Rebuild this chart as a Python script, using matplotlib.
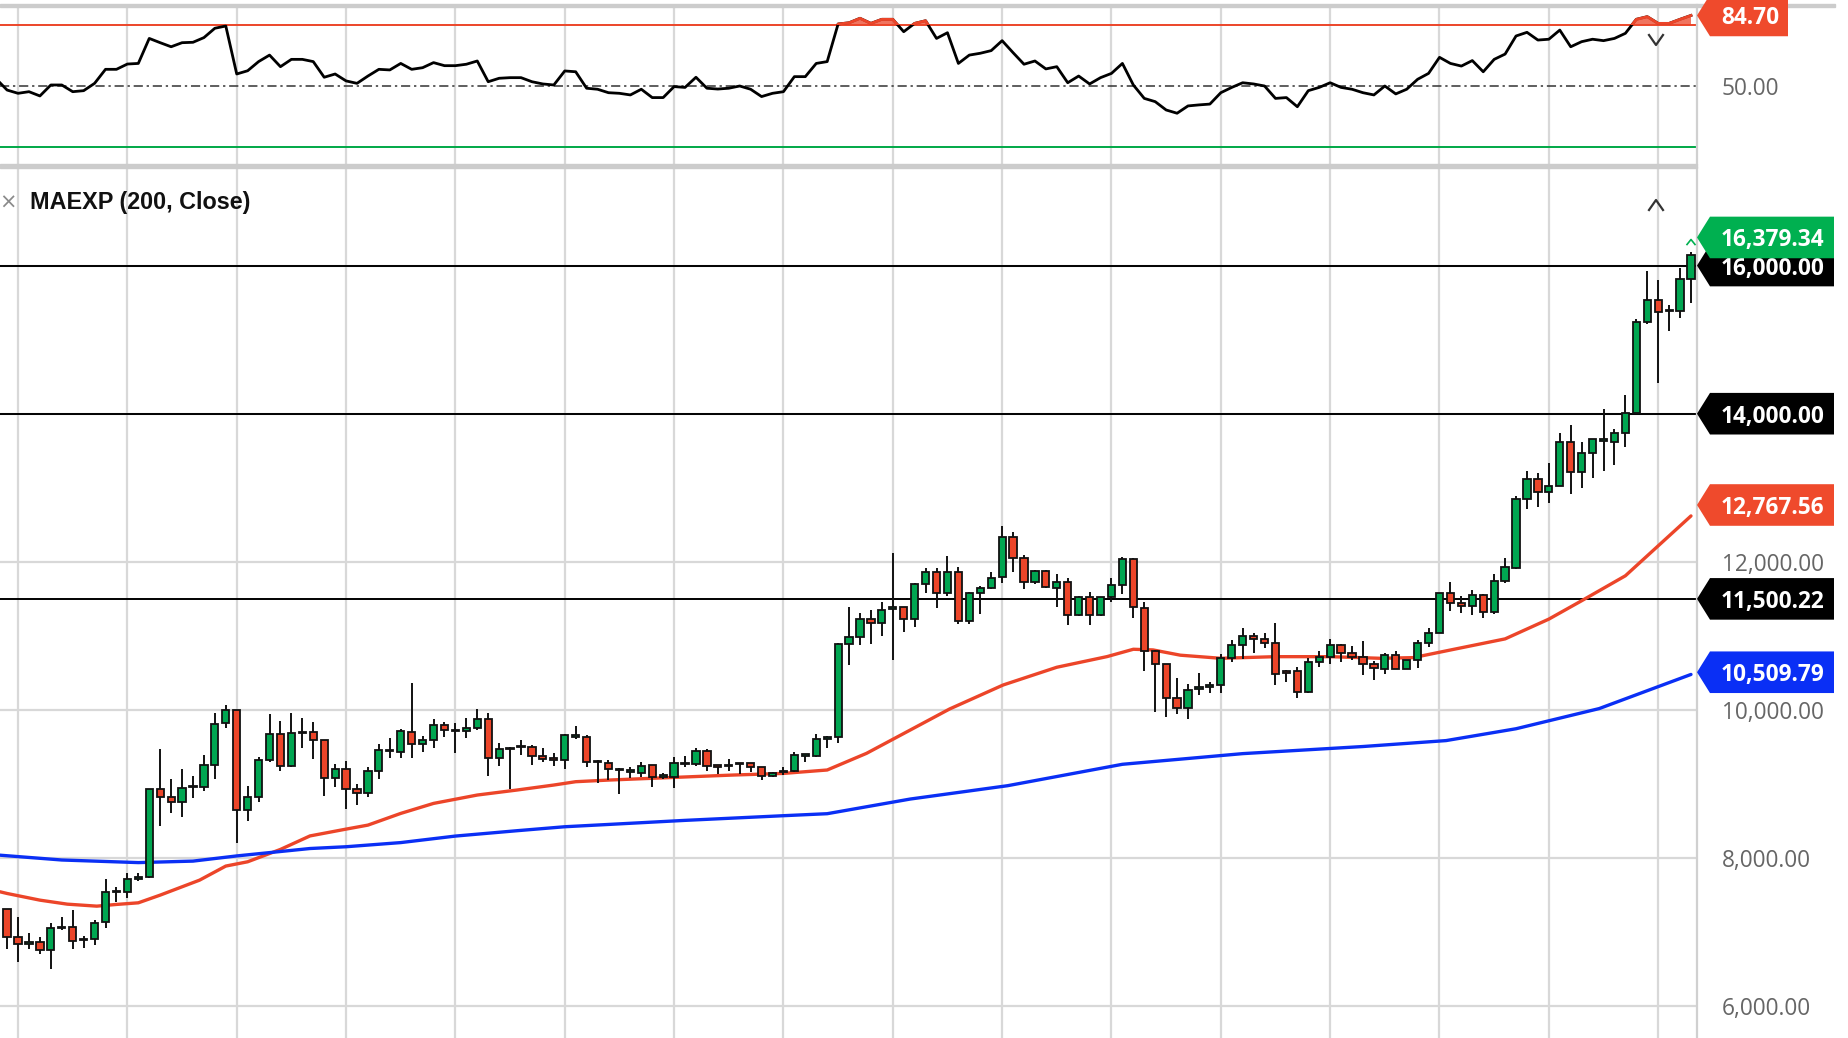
import numpy as np
import matplotlib
matplotlib.use("Agg")
import matplotlib.pyplot as plt
from matplotlib.patches import Polygon, Rectangle
from matplotlib.lines import Line2D
from matplotlib.transforms import IdentityTransform
from matplotlib.ticker import FuncFormatter

plt.rcParams['font.family'] = ['Open Sans', 'DejaVu Sans']

# ---------------- data ----------------
opens = [7307, 6937, 6839, 6870, 6758, 7051, 7073, 6905, 6902, 7136,
         7537, 7541, 7712, 7740, 8933, 8829, 8753, 8960, 8964, 9257,
         9820, 10000, 8649, 8829, 9325, 9671, 9244, 9685, 9707, 9595,
         9077, 9198, 8928, 8874, 9176, 9442, 9437, 9707, 9536, 9595,
         9797, 9730, 9716, 9761, 9874, 9356, 9491, 9496, 9505, 9379,
         9338, 9325, 9640, 9640, 9302, 9279, 9199, 9167, 9154, 9253,
         9099, 9099, 9271, 9266, 9446, 9248, 9244, 9271, 9280, 9226,
         9113, 9162, 9176, 9383, 9383, 9604, 9635, 10887, 10991, 11230,
         11171, 11365, 11387, 11230, 11702, 11869, 11576, 11869, 11203, 11576,
         11644, 11801, 12333, 12049, 11725, 11878, 11644, 11734, 11284, 11531,
         11284, 11522, 11689, 12040, 11383, 10802, 10617, 10158, 10023, 10279,
         10315, 10338, 10698, 10878, 11000, 10955, 10901, 10527, 10527, 10239,
         10644, 10720, 10878, 10766, 10712, 10617, 10554, 10743, 10554, 10676,
         10910, 11045, 11576, 11450, 11405, 11554, 11329, 11748, 11915, 12845,
         13115, 12949, 13024, 13619, 13214, 13474, 13632, 13623, 13735, 14005,
         15236, 15541, 15380, 15384, 15820]
highs = [7320, 7199, 6983, 6929, 7127, 7208, 7298, 6947, 7163, 7717,
         7613, 7793, 7803, 8940, 9469, 9068, 9199, 9113, 9392, 9955,
         10068, 10005, 8973, 9361, 9942, 9851, 9955, 9897, 9842, 9600,
         9266, 9311, 9000, 9225, 9536, 9617, 9739, 10369, 9649, 9874,
         9842, 9820, 9887, 10009, 9964, 9550, 9505, 9595, 9527, 9482,
         9415, 9676, 9788, 9662, 9325, 9325, 9212, 9235, 9302, 9260,
         9144, 9361, 9379, 9491, 9469, 9250, 9343, 9289, 9289, 9235,
         9160, 9235, 9437, 9406, 9671, 9649, 10900, 11387, 11306, 11351,
         11455, 12117, 11396, 11711, 11923, 11923, 12081, 11937, 11590, 11680,
         11869, 12486, 12409, 12094, 11892, 11892, 11833, 11788, 11540, 11590,
         11531, 11779, 12072, 12058, 11455, 10810, 10625, 10437, 10351, 10496,
         10383, 10757, 10946, 11103, 11045, 11036, 11180, 10541, 10577, 10707,
         10802, 10955, 10892, 10865, 10937, 10667, 10766, 10802, 10680, 10946,
         11103, 11580, 11734, 11545, 11622, 11563, 11833, 12049, 12890, 13227,
         13205, 13340, 13745, 13843, 13619, 13663, 14068, 13789, 14252, 15281,
         15933, 15811, 15461, 15969, 16180]
lows = [6780, 6600, 6780, 6704, 6497, 7028, 6780, 6789, 6834, 7051,
        7411, 7456, 7690, 7735, 8433, 8604, 8559, 8807, 8906, 9068,
        9752, 8208, 8505, 8762, 9302, 9181, 9235, 9482, 9333, 8838,
        8955, 8663, 8717, 8820, 9068, 9356, 9347, 9356, 9437, 9482,
        9631, 9424, 9617, 9730, 9108, 9243, 8928, 9392, 9257, 9302,
        9243, 9198, 9608, 9225, 9018, 9054, 8865, 9077, 9099, 8964,
        9063, 8942, 9235, 9248, 9181, 9135, 9181, 9135, 9167, 9054,
        9099, 9122, 9167, 9302, 9370, 9482, 9550, 10608, 10878, 10887,
        11000, 10676, 11058, 11126, 11585, 11374, 11545, 11162, 11162, 11297,
        11635, 11720, 11869, 11635, 11702, 11644, 11396, 11148, 11270, 11148,
        11275, 11455, 11563, 11239, 10532, 9978, 9910, 9942, 9874, 10203,
        10225, 10234, 10644, 10685, 10766, 10833, 10338, 10383, 10158, 10225,
        10586, 10622, 10653, 10676, 10473, 10405, 10482, 10550, 10550, 10563,
        10856, 11040, 11338, 11315, 11284, 11239, 11297, 11711, 11900, 12711,
        12742, 12800, 13020, 12913, 13003, 13137, 13227, 13308, 13555, 14000,
        15214, 14409, 15115, 15294, 15497]
closes = [6937, 6839, 6870, 6758, 7060, 7073, 6880, 6890, 7127, 7546,
          7560, 7712, 7740, 8933, 8829, 8753, 8942, 8975, 9257, 9811,
          10000, 8649, 8829, 9325, 9671, 9244, 9694, 9707, 9595, 9077,
          9198, 8928, 8874, 9176, 9460, 9460, 9716, 9536, 9595, 9797,
          9730, 9716, 9761, 9874, 9356, 9469, 9473, 9505, 9383, 9338,
          9329, 9662, 9658, 9302, 9293, 9198, 9190, 9190, 9248, 9090,
          9102, 9289, 9289, 9446, 9248, 9235, 9253, 9280, 9226, 9113,
          9154, 9176, 9388, 9392, 9604, 9635, 10892, 10991, 11230, 11171,
          11351, 11392, 11230, 11702, 11869, 11585, 11869, 11203, 11576, 11644,
          11788, 12333, 12049, 11725, 11878, 11666, 11734, 11284, 11531, 11284,
          11522, 11689, 12040, 11396, 10802, 10617, 10158, 10032, 10270, 10315,
          10333, 10698, 10878, 11004, 10955, 10910, 10487, 10496, 10239, 10644,
          10720, 10878, 10766, 10720, 10617, 10563, 10743, 10554, 10676, 10910,
          11045, 11576, 11450, 11405, 11554, 11329, 11748, 11928, 12845, 13115,
          12949, 13024, 13619, 13214, 13474, 13654, 13654, 13735, 14005, 15236,
          15541, 15375, 15384, 15820, 16139]

# RSI, starting one bar before the first visible candle
rsi_start = -1
rsi_values = [53.5,
              48, 46.4, 47.2, 45.1, 50.5, 50.5, 47.2, 47.7, 51.3, 58.2,
              58.2, 60.8, 61.1, 73.4, 71.3, 69.3, 71.3, 71.5, 73.8, 78.4,
              79.5, 55.9, 57.5, 62, 65.2, 59.5, 63.1, 63.1, 62, 54.3,
              55.9, 52.5, 51.3, 54.9, 58.2, 57.9, 61.1, 58.2, 59, 61.5,
              60, 60, 60.7, 62.3, 52.1, 53.8, 54.1, 54.1, 52.1, 51,
              50.5, 57.4, 57, 48.9, 48.4, 46.7, 46.4, 45.6, 48.4, 44.3,
              44.3, 49.7, 49.3, 54.3, 48.9, 48.5, 48.9, 50, 48.4, 44.8,
              46.4, 47.2, 54.6, 54.6, 61.1, 62, 80.5, 81.1, 83.3, 80.8,
              82.8, 82.8, 76.7, 80.8, 82.1, 73.4, 76.2, 61.1, 65.2, 66.1,
              67.4, 72.3, 66.4, 60.7, 62.3, 58.4, 59.5, 51.6, 54.9, 51,
              54.1, 56.2, 61.1, 50.5, 43.9, 42.3, 38.2, 36.6, 40.2, 40.7,
              41.1, 46.7, 49.3, 51.6, 51, 50, 43.9, 44.3, 39.8, 47.7,
              49.3, 51.6, 49.3, 48.4, 46.7, 45.6, 50, 46.1, 48.4, 53.3,
              56.2, 64.1, 61.1, 59.8, 62.5, 57, 63.1, 65.7, 74.6, 76.4,
              72.6, 73, 77.5, 69.3, 71.8, 73, 72.3, 73.4, 75.9, 82.8,
              84.1, 80.8, 80.8, 82.8, 84.7]
rsi_upper, rsi_mid, rsi_lower = 80, 50, 20

# moving averages, read at bar positions
ema_fast_x = [-0.65, 0, 3, 5.5, 8.2, 10, 12, 14, 17.6, 20, 22, 25, 27.7, 31, 33,
              36, 39, 43, 46.6, 50, 52, 55, 61, 66.4, 71, 75, 78.6, 82.6, 86.2,
              91.1, 96, 100.6, 103, 104.8, 107.3, 111, 116, 121, 125.6, 128.6,
              132, 137, 141, 144, 148, 151, 154]
ema_fast_y = [7546, 7523, 7433, 7379, 7352, 7375, 7397, 7501, 7703, 7893, 7951,
              8118, 8300, 8392, 8446, 8604, 8739, 8852, 8919, 8987, 9032, 9054,
              9090, 9122, 9144, 9190, 9415, 9730, 10014, 10338, 10577, 10721,
              10820, 10811, 10740, 10698, 10720, 10720, 10698, 10707, 10810,
              10960, 11227, 11475, 11812, 12216, 12620]
ema_slow_x = [-0.65, 5, 12, 17, 21, 27.7, 31, 36, 41, 46.6, 51, 55, 62, 71, 75,
              82.6, 91.5, 102, 113, 124, 131.6, 138, 145.6, 154]
ema_slow_y = [8040, 7975, 7940, 7960, 8030, 8130, 8154, 8210, 8298, 8370, 8424,
              8455, 8510, 8573, 8600, 8798, 8978, 9267, 9411, 9507, 9587, 9747,
              10019, 10480]

levels = [16000.00, 14000.00, 11500.22]
last_price = 16379.34
ema_fast_last = 12767.56
ema_slow_last = 10509.79
rsi_last = 84.70
price_ticks = [6000, 8000, 10000, 12000, 14000, 16000]
title = "MAEXP (200, Close)"

# ---------------- styling ----------------
GREEN = '#00a651'
RED = '#ec4529'
BLUE = '#0a2ff5'
TAG_GREEN = '#00b050'
TAG_RED = '#ef4a2c'
TAG_BLUE = '#0a2ff5'
GRID = '#d8d8d8'
TXT_GRAY = '#666666'

W, H = 1849, 1038
fig = plt.figure(figsize=(W / 100, H / 100), dpi=100)
PLOT_RIGHT = 1697


def px_axes(left, top, right, bottom):
    return fig.add_axes([left / W, 1 - bottom / H, (right - left) / W, (bottom - top) / H])


ax_r = px_axes(0, 5, PLOT_RIGHT, 164)
ax = px_axes(0, 168, PLOT_RIGHT, 1038)

n = len(closes)
idx = np.arange(n)
XLIM = (-0.65, 154.55)

for a in (ax, ax_r):
    a.set_xlim(*XLIM)
    a.set_xticks(np.arange(1, n, 10))
    a.grid(True, axis='x', color=GRID, lw=1.6, zorder=0)
    a.tick_params(axis='x', length=0, labelbottom=False)
    for s in ('top', 'bottom', 'left'):
        a.spines[s].set_visible(False)
    a.spines['right'].set_color('#d0d0d0')
    a.spines['right'].set_linewidth(1.6)
    a.yaxis.tick_right()
    a.tick_params(axis='y', length=0, pad=18, labelsize=16.3, labelcolor=TXT_GRAY)
    a.set_axisbelow(True)

# ---------------- main price panel ----------------
ax.set_ylim(5572, 17317)
ax.set_yticks(price_ticks)
ax.yaxis.set_major_formatter(FuncFormatter(lambda v, p: f"{v:,.2f}"))
ax.grid(True, axis='y', color=GRID, lw=1.6, zorder=0)

for lv in levels:
    ax.axhline(lv, color='black', lw=1.4, zorder=2)

ax.plot(ema_fast_x, ema_fast_y, color=RED, lw=2.4, zorder=2.2, solid_capstyle='round')
ax.plot(ema_slow_x, ema_slow_y, color=BLUE, lw=2.4, zorder=2.2, solid_capstyle='round')

o = np.array(opens, float)
h = np.array(highs, float)
l = np.array(lows, float)
c = np.array(closes, float)
up = c >= o
ax.vlines(idx, l, h, color='#111111', lw=1.4, zorder=3)
body_lo = np.minimum(o, c)
body_h = np.maximum(np.abs(c - o), 18)
ax.bar(idx, body_h, bottom=body_lo, width=0.66,
       color=np.where(up, GREEN, RED), edgecolor='#111111', linewidth=1.3, zorder=4)

# ---------------- RSI panel ----------------
ax_r.set_ylim(11.63, 89.84)
ax_r.set_yticks([rsi_mid])
ax_r.yaxis.set_major_formatter(FuncFormatter(lambda v, p: f"{v:.2f}"))
ax_r.axhline(rsi_upper, color=RED, lw=1.4, zorder=2)
ax_r.axhline(rsi_lower, color='#00a846', lw=1.4, zorder=2)
ax_r.axhline(rsi_mid, color='#333333', lw=1.1, ls=(0, (6, 2.5, 1.5, 2.5)), zorder=2)

rsi = np.array(rsi_values, float)
rx = np.arange(len(rsi)) + rsi_start
ax_r.plot(rx, rsi, color='black', lw=2.0, zorder=3, solid_joinstyle='round')
ax_r.fill_between(rx, rsi, rsi_upper, where=rsi > rsi_upper, interpolate=True,
                  color=RED, alpha=0.75, lw=0, zorder=3.1)
red_part = ax_r.plot(rx, rsi, color=RED, lw=2.0, zorder=3.2, solid_joinstyle='round')[0]
clip = Rectangle((XLIM[0], rsi_upper), XLIM[1] - XLIM[0], 50, transform=ax_r.transData)
red_part.set_clip_path(clip)

# ---------------- figure decorations ----------------
ID = IdentityTransform()


def fy(y_top):
    return H - y_top


fig.add_artist(Rectangle((0, fy(6.5)), 1835, 3, transform=ID, color='#cccccc', zorder=5))
fig.add_artist(Rectangle((0, fy(167.5)), PLOT_RIGHT, 4, transform=ID, color='#cccccc', zorder=5))

fig.text(30, fy(202), title, transform=ID, fontsize=16.8, fontweight='bold',
         family=['Liberation Sans', 'DejaVu Sans'], va='center', ha='left', color='#111111')
fig.text(8, fy(203), "\u00d7", transform=ID, fontsize=15, color='#8a8a8a',
         va='center', ha='center', family=['DejaVu Sans'])


def chevron(xc, yc_top, up_dir, w=7, hh=5, color='#333333', lw=1.6):
    yc = fy(yc_top)
    if up_dir:
        xs, ys = [xc - w, xc, xc + w], [yc - hh, yc + hh, yc - hh]
    else:
        xs, ys = [xc - w, xc, xc + w], [yc + hh, yc - hh, yc + hh]
    fig.add_artist(Line2D(xs, ys, transform=ID, color=color, lw=lw, zorder=6))


chevron(1656, 40, False)
chevron(1656, 205, True)
chevron(1691, 242, True, w=4, hh=2.5, color=TAG_GREEN, lw=1.2)

TAG_H = 41.6


def tag(a, value, text, color, right, z):
    yc = a.transData.transform((0, value))[1]
    x0 = a.transAxes.transform((1, 0))[0]
    pts = [(x0, yc), (x0 + 13, yc + TAG_H / 2), (right, yc + TAG_H / 2),
           (right, yc - TAG_H / 2), (x0 + 13, yc - TAG_H / 2)]
    fig.add_artist(Polygon(pts, closed=True, transform=ID, facecolor=color,
                           edgecolor='none', zorder=z))
    fig.text(1721, yc, text, transform=ID, color='white', fontsize=16.3,
             fontweight='bold', va='center_baseline', ha='left', zorder=z + 0.5)


z = 10
for lv in levels:
    tag(ax, lv, f"{lv:,.2f}", 'black', 1834, z)
    z += 1
tag(ax, ema_fast_last, f"{ema_fast_last:,.2f}", TAG_RED, 1834, z); z += 1
tag(ax, ema_slow_last, f"{ema_slow_last:,.2f}", TAG_BLUE, 1834, z); z += 1
tag(ax, last_price, f"{last_price:,.2f}", TAG_GREEN, 1834, z); z += 1
tag(ax_r, rsi_last, f"{rsi_last:.2f}", TAG_RED, 1788, z)

fig.savefig("out.png", dpi=100, facecolor='white')
